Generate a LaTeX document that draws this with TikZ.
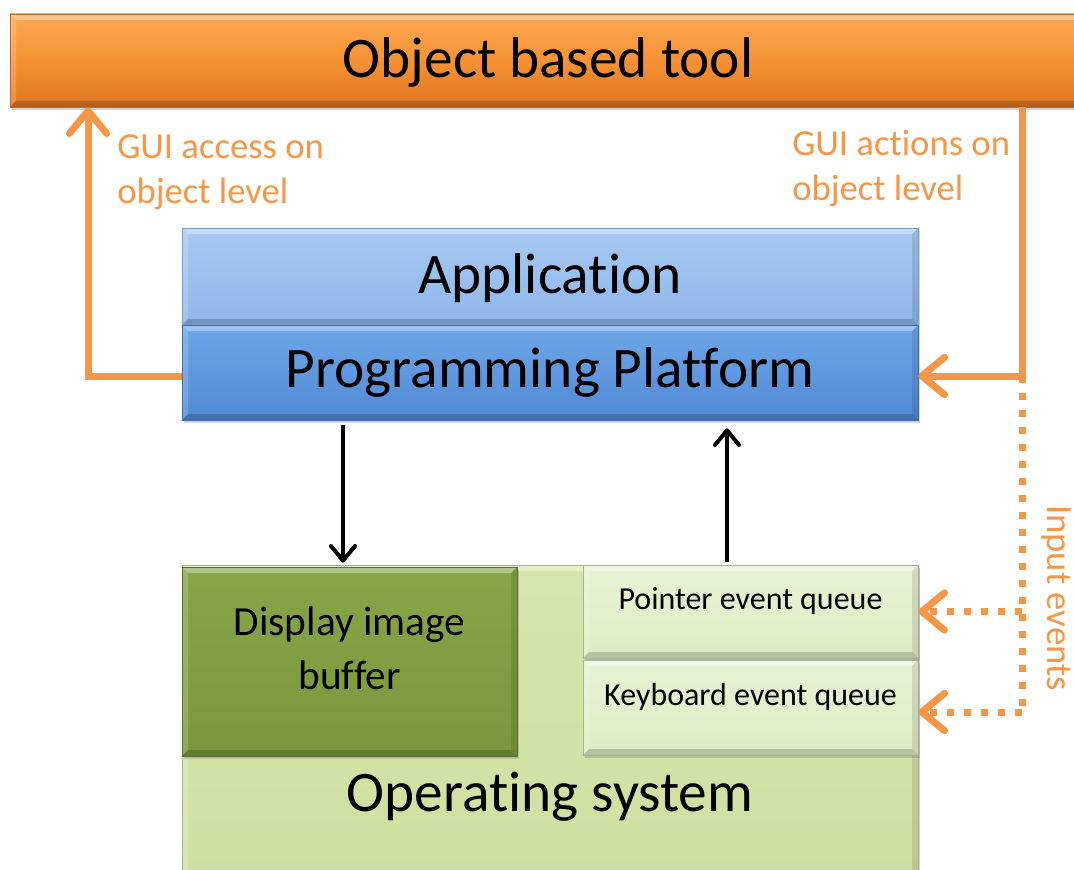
\documentclass[tikz,border=0pt]{standalone}
\usepackage{fontspec}
\setmainfont{Carlito}[Ligatures=NoCommon]
\usetikzlibrary{arrows.meta,shadows}
\definecolor{orng}{RGB}{247,150,70}
\definecolor{orngtop}{RGB}{251,168,82}
\definecolor{orngmid}{RGB}{247,146,52}
\definecolor{orngbot}{RGB}{222,116,32}
\definecolor{apptop}{RGB}{168,202,243}
\definecolor{appbot}{RGB}{141,182,234}
\definecolor{pptop}{RGB}{110,166,232}
\definecolor{ppbot}{RGB}{80,138,212}
\definecolor{ostop}{RGB}{214,229,172}
\definecolor{osbot}{RGB}{206,224,160}
\definecolor{disptop}{RGB}{135,166,72}
\definecolor{dispbot}{RGB}{120,152,60}
\definecolor{qtop}{RGB}{232,242,212}
\definecolor{qbot}{RGB}{222,236,196}
\tikzset{
  bevel/.style={path picture={
    \coordinate (bva) at (path picture bounding box.south west);
    \coordinate (bvb) at (path picture bounding box.north east);
    \fill[white,opacity=.35] (bva |- bvb) -- (bvb) -- ([xshift=-4.5pt,yshift=-4.5pt]bvb) -- ([xshift=4.5pt,yshift=-4.5pt]bva |- bvb) -- cycle;
    \fill[white,opacity=.18] (bva) -- (bva |- bvb) -- ([xshift=4.5pt,yshift=-4.5pt]bva |- bvb) -- ([xshift=4.5pt,yshift=4.5pt]bva) -- cycle;
    \fill[black,opacity=.18] (bva) -- (bva -| bvb) -- ([xshift=-4.5pt,yshift=4.5pt]bva -| bvb) -- ([xshift=4.5pt,yshift=4.5pt]bva) -- cycle;
    \fill[black,opacity=.10] (bva -| bvb) -- (bvb) -- ([xshift=-4.5pt,yshift=-4.5pt]bvb) -- ([xshift=-4.5pt,yshift=4.5pt]bva -| bvb) -- cycle;
  }},
  boxbase/.style={rectangle, inner sep=0pt, bevel, text=black,
    drop shadow={opacity=0.35, shadow xshift=1.2pt, shadow yshift=-2.2pt}},
  bigtext/.style={font=\fontsize{43}{50}\selectfont},
  otip/.style={-{Straight Barb[length=17pt,width=28pt,round]}},
  oarrow/.style={draw=orng, line width=5.25pt, otip},
  odots/.style={draw=orng, line width=5.25pt, dash pattern=on 5.25pt off 7.5pt},
  blk/.style={draw=black, line width=3pt, -{Straight Barb[length=11pt,width=18pt,round]}},
  olabel/.style={text=orng, font=\fontsize{27.5}{34}\selectfont, align=left, inner sep=0pt},
}
\begin{document}
\begin{tikzpicture}[x=0.75pt,y=-0.75pt]
\useasboundingbox (0,0) rectangle (1074,870);

% top bar
\node[boxbase, bigtext, minimum width=807pt, minimum height=69.75pt,
  top color=orngtop, bottom color=orngbot, middle color=orngmid, draw=orngbot!90!black, line width=0.5pt,
  text height=34.5pt, text depth=8.5pt]
  (top) at (548,60.5) {Object based tool};

% application stack
\node[boxbase, bigtext, minimum width=552pt, minimum height=72.75pt,
  top color=apptop, bottom color=appbot, draw=appbot!85!black, line width=0.5pt,
  text height=34.5pt, text depth=8.5pt]
  (app) at (550,276.5) {Application};
\node[boxbase, bigtext, minimum width=552pt, minimum height=71.25pt,
  top color=pptop, bottom color=ppbot, draw=ppbot!80!black, line width=0.5pt]
  (pp) at (550,372.5) {Programming Platform};

% operating system
\node[boxbase, minimum width=552pt, minimum height=236.25pt,
  top color=ostop, bottom color=osbot, draw=osbot!80!black, line width=0.5pt]
  (os) at (550,722.5) {};
\node[bigtext, inner sep=0pt] (ostext) at (550,797) {Operating system};

\node[boxbase, minimum width=251.25pt, minimum height=141.75pt,
  top color=disptop, bottom color=dispbot, draw=dispbot!75!black, line width=0.5pt,
  font=\fontsize{31}{40}\selectfont, align=center, text depth=20pt]
  (disp) at (349.5,661.5) {Display image\\buffer};

\node[boxbase, minimum width=251.25pt, minimum height=69.75pt,
  top color=qtop, bottom color=qbot, draw=qbot!75!black, line width=0.5pt,
  font=\fontsize{24}{28}\selectfont, text depth=19pt]
  (pq) at (750.5,611.5) {Pointer event queue};
\node[boxbase, minimum width=251.25pt, minimum height=71.25pt,
  top color=qtop, bottom color=qbot, draw=qbot!75!black, line width=0.5pt,
  font=\fontsize{24}{28}\selectfont, text depth=19pt]
  (kq) at (750.5,707.5) {Keyboard event queue};

% labels
\node[olabel, anchor=north west] (lgui) at (117,134) {GUI access on\\object level};
\node[olabel, anchor=north west] (rgui) at (792,130) {GUI actions on\\object level};
\node[olabel, rotate=-90] (inev) at (1056,598) {Input events};

% orange connectors
\coordinate (lc) at (88,376);
\coordinate (rc) at (1022,376);
\coordinate (rd) at (1022,712);
\draw[oarrow] (pp.west |- lc) -- (lc) -- (lc |- top.south);
\draw[odots] (rc) -- (rd);
\draw[oarrow] (rc |- top.south) -- (rc) -- (pp.east |- rc);
\draw[odots, otip] (pq.east -| rc) -- (pq.east);
\draw[odots, otip] (rd) -- (rd -| kq.east);

% black connectors
\path (disp.north) ++(-6.5,0) coordinate (dtop);
\path (pq.north) ++(-23.5,0) coordinate (ptop);
\draw[blk, shorten <=3.5pt, shorten >=3pt] (pp.south -| dtop) -- (dtop);
\draw[blk, shorten <=2pt, shorten >=6pt] (ptop) -- (pp.south -| ptop);
\end{tikzpicture}
\end{document}
